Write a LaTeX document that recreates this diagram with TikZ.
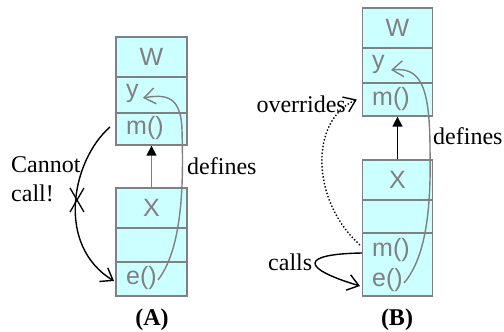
\documentclass[tikz,border=0pt]{standalone}
\usepackage{fontspec}
\setmainfont{Liberation Serif}
\newfontfamily\boxfont{Liberation Sans}
\usetikzlibrary{arrows.meta}
\definecolor{boxfill}{RGB}{204,255,255}
\definecolor{boxline}{RGB}{128,128,128}
\definecolor{boxtext}{RGB}{128,128,128}
\tikzset{
  comp/.style={draw=boxline, fill=boxfill, line width=1.3pt, inner sep=0pt, minimum width=71pt},
  ctext/.style={font=\boxfont\fontsize{25}{27}\selectfont, text=boxtext, inner sep=0pt},
  lbl/.style={font=\fontsize{24}{29}\selectfont, inner sep=0pt},
  panelcap/.style={font=\bfseries\fontsize{24}{29}\selectfont, inner sep=0pt},
  openarr/.style={-{Straight Barb[length=11pt,width=16pt,line width=1.4pt]}},
  callarr/.style={line width=1.4pt, openarr},
  defarr/.style={draw=boxline, line width=1.4pt, openarr},
  inh/.style={line width=1.4pt, -{Triangle[length=10pt,width=10pt,color=black]}}
}
\begin{document}
\begin{tikzpicture}[x=1pt,y=-1pt]
\useasboundingbox (0,0) rectangle (504,332);
% ---------- (A) ----------
\node[comp, minimum height=40pt] (WA) at (151.5,57) {};
\node[comp, minimum height=36pt] (yA) at (151.5,95) {};
\node[comp, minimum height=32pt] (mA) at (151.5,129) {};
\node[comp, minimum height=40pt] (XA) at (151.5,208) {};
\node[comp, minimum height=34pt] (fA) at (151.5,245) {};
\node[comp, minimum height=34pt] (eA) at (151.5,279) {};
\node[ctext] (WAt) at (WA.center) {W};
\node[ctext, anchor=west] (yAt) at (126,93) {y};
\node[ctext, anchor=west] (mAt) at (126,128) {m()};
\node[ctext] (XAt) at (XA.center) {X};
\node[ctext, anchor=west] (eAt) at (126,278) {e()};
\draw[inh, draw=boxline] (XA.north) -- (mA.south);
\coordinate (cA1) at (110,127);
\coordinate (cA2) at (114,281);
\draw[callarr] (cA1) .. controls (72,160) and (55,245) .. (cA2);
\coordinate (x1) at (70,188);
\coordinate (x2) at (84,212);
\coordinate (x3) at (84,188);
\coordinate (x4) at (70,212);
\draw[line width=1.3pt] (x1) -- (x2) (x3) -- (x4);
\node[lbl, anchor=west, align=left] (cannot) at (11,179) {Cannot\\call!};
\coordinate (dA1) at (158,280);
\coordinate (dA2) at (182,130);
\coordinate (dA3) at (143,98);
\draw[defarr] (dA1) .. controls (185,245) and (183,170) .. (dA2) .. controls (181,96) and (166,94) .. (dA3);
\node[lbl, anchor=west] (defA) at (187,166) {defines};
\node[panelcap] (capA) at (152,320) {(A)};
% ---------- (B) ----------
\node[comp, minimum width=70pt, minimum height=40pt] (WB) at (397.5,28) {};
\node[comp, minimum width=70pt, minimum height=35pt] (yB) at (397.5,65.5) {};
\node[comp, minimum width=70pt, minimum height=33pt] (mB) at (397.5,99.5) {};
\node[comp, minimum width=70pt, minimum height=40pt] (XB) at (397.5,180) {};
\node[comp, minimum width=70pt, minimum height=33pt] (fB) at (397.5,216.5) {};
\node[comp, minimum width=70pt, minimum height=63pt] (eB) at (397.5,264.5) {};
\node[ctext] (WBt) at (WB.center) {W};
\node[ctext, anchor=west] (yBt) at (372,64) {y};
\node[ctext, anchor=west] (mBt) at (372,99) {m()};
\node[ctext, anchor=west] (mB2t) at (372,250) {m()};
\node[ctext] (XBt) at (XB.center) {X};
\node[ctext, anchor=west] (eBt) at (372,280) {e()};
\draw[inh] (XB.north) -- (mB.south);
\coordinate (oB1) at (360,245);
\coordinate (oB2) at (358,99);
\draw[line width=1.4pt, dotted, -{Straight Barb[length=11pt,width=16pt,line width=1.4pt,sep]}] (oB1) .. controls (310,200) and (310,120) .. (oB2);
\node[lbl, anchor=east] (over) at (346,104) {overrides};
\coordinate (kB1) at (362,253);
\coordinate (kB2) at (360,286);
\draw[callarr] (kB1) .. controls (300,254) and (300,268) .. (kB2);
\node[lbl, anchor=west] (calls) at (268,262) {calls};
\coordinate (dB1) at (404,283);
\coordinate (dB2) at (430,150);
\coordinate (dB3) at (391,70);
\draw[defarr] (dB1) .. controls (428,255) and (431,200) .. (dB2) .. controls (430,85) and (420,67) .. (dB3);
\node[lbl, anchor=west] (defB) at (433,136) {defines};
\node[panelcap] (capB) at (397,320) {(B)};
\end{tikzpicture}
\end{document}
